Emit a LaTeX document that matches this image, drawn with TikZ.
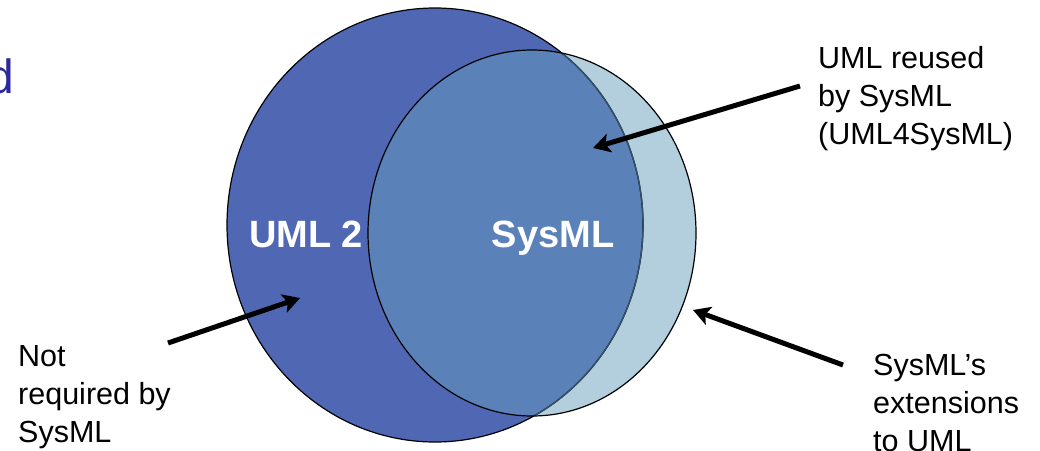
\documentclass[tikz,border=0pt]{standalone}
\usepackage{fontspec}
\setmainfont{Liberation Sans}
\usetikzlibrary{arrows.meta}

\definecolor{umlfill}{HTML}{5068B4}
\definecolor{sharedfill}{HTML}{5B82B8}
\definecolor{sysmlfill}{HTML}{B3CFDD}
\definecolor{inneredge}{HTML}{34506A}
\definecolor{titleblue}{HTML}{2A2A9C}

\begin{document}
\begin{tikzpicture}[x=1pt,y=-1pt,
    callout/.style={inner sep=0pt, align=left, anchor=base west,
      font=\fontsize{30.5}{38}\selectfont},
    setname/.style={inner sep=0pt, anchor=base, text=white,
      font=\fontsize{38}{44}\selectfont\bfseries},
    pointer/.style={line width=5pt, -{Stealth[length=17pt,width=19pt,inset=4pt]}}]

    \useasboundingbox (0,0) rectangle (1040,450);

    % the two sets
    \fill[umlfill] (435,225) ellipse [x radius=208, y radius=217];
    \fill[sysmlfill] (532,233) ellipse [x radius=164, y radius=183];
    \begin{scope}
        \clip (532,233) ellipse [x radius=164, y radius=183];
        \fill[sharedfill] (435,225) ellipse [x radius=208, y radius=217];
    \end{scope}
    \draw[line width=1.2pt] (435,225) ellipse [x radius=208, y radius=217];
    \begin{scope}
        \clip (532,233) ellipse [x radius=164, y radius=183];
        \draw[inneredge, line width=1.4pt] (435,225) ellipse [x radius=208, y radius=217];
    \end{scope}
    \draw[line width=1.2pt] (532,233) ellipse [x radius=164, y radius=183];

    \node[setname] (uml) at (306,247) {UML 2};
    \node[setname] (sysml) at (553,247) {SysML};

    % cut-off title
    \node[inner sep=0pt, anchor=base east, text=titleblue,
      font=\fontsize{48}{56}\selectfont] (title) at (14,93) {d};

    % callouts (base = last line)
    \node[callout] (reused) at (818,144) {UML reused\\by SysML\\(UML4SysML)};
    \node[callout] (notreq) at (18,442) {Not\\required by\\SysML};
    \node[callout] (ext) at (873,451) {SysML’s\\extensions\\to UML};

    \coordinate (reusedtail) at (800,86);
    \coordinate (reusedtip) at (593,148);
    \coordinate (notreqtail) at (168,343);
    \coordinate (notreqtip) at (300,298);
    \coordinate (exttail) at (843,365);
    \coordinate (exttip) at (693,310);

    \draw[pointer] (reusedtail) -- (reusedtip);
    \draw[pointer] (notreqtail) -- (notreqtip);
    \draw[pointer] (exttail) -- (exttip);
\end{tikzpicture}
\end{document}
